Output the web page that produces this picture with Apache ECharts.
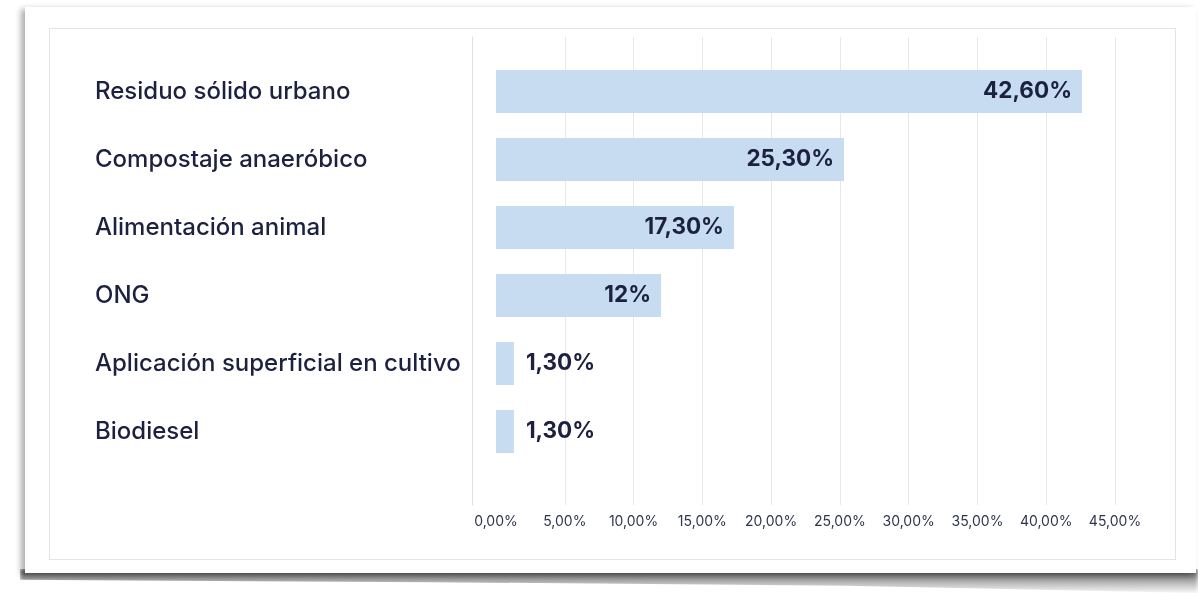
<!DOCTYPE html>
<html>
<head>
<meta charset="utf-8">
<script src="https://cdn.jsdelivr.net/npm/echarts@6/dist/echarts.min.js"></script>
<style>
  html, body { margin: 0; padding: 0; background: #ffffff; }
  body { width: 1198px; height: 593px; position: relative; overflow: hidden; }
  .sheet {
    position: absolute; left: 25px; top: 7px; width: 1171px; height: 566px;
    background: #fff;
    box-shadow: -4px 2px 6px rgba(0,0,0,0.32);
  }
  .curl {
    position: absolute; left: 20px; top: 569px; width: 1178px; height: 24px;
    background: linear-gradient(to bottom, rgba(60,60,60,0.95), rgba(120,120,120,0.6) 50%, rgba(220,220,220,0.2));
    clip-path: polygon(0 0, 100% 0, 100% 100%, 70% 70%, 35% 55%, 0 45%);
    filter: blur(2px);
  }
  .card {
    position: absolute; left: 49px; top: 28px; width: 1125px; height: 530px;
    border: 1px solid #e4e4e4; background: #fff;
  }
  #chart { position: absolute; left: 0; top: 0; width: 1198px; height: 593px; }
</style>
</head>
<body>
<div class="curl"></div>
<div class="sheet"></div>
<div class="card"></div>
<div id="chart"></div>
<script>
// Destino de los residuos (porcentaje)
const categories = [
  'Residuo sólido urbano',
  'Compostaje anaeróbico',
  'Alimentación animal',
  'ONG',
  'Aplicación superficial en cultivo',
  'Biodiesel'
];
const shares = [42.6, 25.3, 17.3, 12, 1.3, 1.3];
const xTickLabels = ['0,00%', '5,00%', '10,00%', '15,00%', '20,00%', '25,00%', '30,00%', '35,00%', '40,00%', '45,00%'];

const FONT = 'Inter, "Noto Sans", sans-serif';
const INK = '#1c2140';

function pct(v) {
  return Number.isInteger(v) ? v + '%' : v.toFixed(2).replace('.', ',') + '%';
}

const barData = shares.map(v => ({
  value: v,
  label: v < 5
    ? { position: 'right', distance: 12 }
    : { position: 'insideRight', distance: 10 }
}));

const chart = echarts.init(document.getElementById('chart'), null, { renderer: 'canvas' });
chart.setOption({
  animation: false,
  grid: [
    { left: 496, right: 83, top: 57.5, height: 408 },
    { left: 496, right: 83, top: 37, height: 468 }
  ],
  xAxis: [
    { gridIndex: 0, type: 'value', min: 0, max: 45, interval: 5, show: false },
    {
      gridIndex: 1, type: 'value', min: 0, max: 45, interval: 5,
      axisLine: { show: false }, axisTick: { show: false },
      splitLine: { show: true, showMinLine: false, lineStyle: { color: '#e8e8e8', width: 1 } },
      axisLabel: {
        margin: 10, color: '#30354f', fontFamily: FONT, fontSize: 14,
        formatter: v => xTickLabels[Math.round(v / 5)]
      }
    }
  ],
  yAxis: [
    {
      gridIndex: 0, type: 'category', data: categories, inverse: true,
      axisLine: { show: false }, axisTick: { show: false },
      splitLine: { show: false },
      axisLabel: {
        align: 'left', margin: 401, color: INK,
        fontFamily: FONT, fontSize: 24, fontWeight: 500
      }
    },
    {
      gridIndex: 1, type: 'value', min: 0, max: 1, offset: 24,
      axisLine: { show: true, onZero: false, lineStyle: { color: '#e0e0e0', width: 1 } },
      axisTick: { show: false }, axisLabel: { show: false }, splitLine: { show: false }
    }
  ],
  series: [{
    type: 'bar',
    xAxisIndex: 0, yAxisIndex: 0,
    data: barData,
    barWidth: 43,
    itemStyle: { color: '#c8dcf1' },
    label: {
      show: true, color: INK, fontFamily: FONT, fontSize: 22.5, fontWeight: 700,
      formatter: p => pct(p.value)
    }
  }]
});
</script>
</body>
</html>
